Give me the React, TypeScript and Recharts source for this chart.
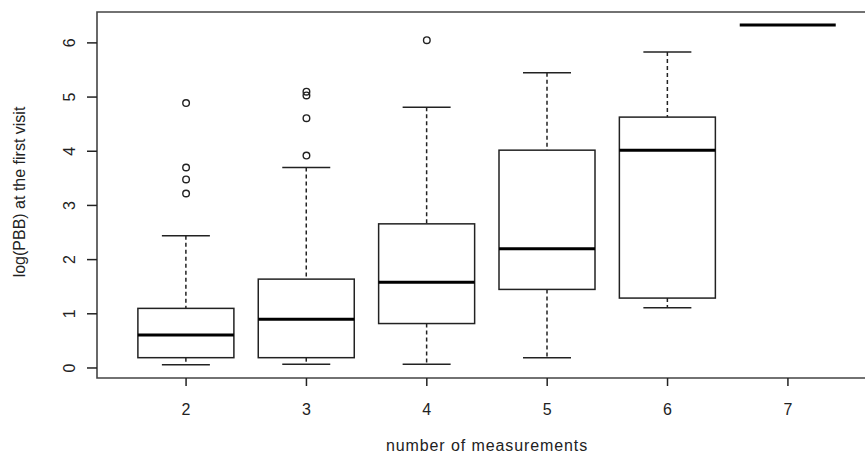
import React from "react";
import {
  ComposedChart,
  Bar,
  Scatter,
  XAxis,
  YAxis,
  ReferenceArea,
  Label,
} from "recharts";

// 측정 횟수별 로그(PBB) 분포 (상자그림 요약값)
const categories = ["2", "3", "4", "5", "6", "7"];
const lowWhisker = [0.06, 0.07, 0.07, 0.19, 1.11, 6.33];
const q1 = [0.19, 0.19, 0.82, 1.45, 1.29, 6.33];
const median = [0.61, 0.9, 1.58, 2.2, 4.02, 6.33];
const q3 = [1.1, 1.64, 2.66, 4.02, 4.63, 6.33];
const highWhisker = [2.44, 3.7, 4.81, 5.45, 5.83, 6.33];

// 이상치 (카테고리 인덱스별)
const outliers2 = [4.89, 3.7, 3.48, 3.22];
const outliers3 = [5.1, 5.03, 4.61, 3.92];
const outliers4 = [6.05];

const yTicks = [0, 1, 2, 3, 4, 5, 6];

// 축 범위 (R 기본값처럼 4% 여백)
const X_MIN = 0.26;
const X_MAX = 6.74;
const Y_MIN = -0.185;
const Y_MAX = 6.57;

const FONT = "'Liberation Sans', Arial, sans-serif";
const INK = "#222";

const boxRows = categories.map((c, i) => ({
  pos: i + 1,
  label: c,
  lo: lowWhisker[i],
  q1: q1[i],
  med: median[i],
  q3: q3[i],
  hi: highWhisker[i],
}));

const outlierRows = [
  ...outliers2.map((v) => ({ pos: 1, value: v })),
  ...outliers3.map((v) => ({ pos: 2, value: v })),
  ...outliers4.map((v) => ({ pos: 3, value: v })),
];

// 상자 하나를 그리는 shape: 막대의 [Y_MIN, hi] 범위로 픽셀 스케일을 구함
function BoxShape(props: any) {
  const { x, y, width, height, payload } = props;
  const ppu = height / (payload.hi - Y_MIN);
  const toY = (v: number) => y + (payload.hi - v) * ppu;
  const cx = x + width / 2;
  const cap = width / 4;
  const yHi = toY(payload.hi);
  const yLo = toY(payload.lo);
  const yQ3 = toY(payload.q3);
  const yQ1 = toY(payload.q1);
  const yMed = toY(payload.med);
  return (
    <g>
      {yQ3 > yHi && (
        <line x1={cx} x2={cx} y1={yHi} y2={yQ3} stroke={INK} strokeWidth={1.5} strokeDasharray="4 3" />
      )}
      {yLo > yQ1 && (
        <line x1={cx} x2={cx} y1={yQ1} y2={yLo} stroke={INK} strokeWidth={1.5} strokeDasharray="4 3" />
      )}
      <line x1={cx - cap} x2={cx + cap} y1={yHi} y2={yHi} stroke={INK} strokeWidth={1.5} />
      <line x1={cx - cap} x2={cx + cap} y1={yLo} y2={yLo} stroke={INK} strokeWidth={1.5} />
      <rect x={x} y={yQ3} width={width} height={Math.max(0, yQ1 - yQ3)} fill="none" stroke={INK} strokeWidth={1.5} />
      <line x1={x} x2={x + width} y1={yMed} y2={yMed} stroke="#000" strokeWidth={3} />
    </g>
  );
}

function OutlierShape(props: any) {
  const { cx, cy } = props;
  return <circle cx={cx} cy={cy} r={3.3} fill="none" stroke={INK} strokeWidth={1.4} />;
}

function XTick(props: any) {
  const { x, y, payload } = props;
  return (
    <text x={x} y={y + 29} textAnchor="middle" fontSize={16} fontFamily={FONT} fill={INK}>
      {categories[payload.value - 1]}
    </text>
  );
}

function YTick(props: any) {
  const { x, y, payload } = props;
  const tx = x - 12;
  return (
    <text
      x={tx}
      y={y}
      transform={`rotate(-90, ${tx}, ${y})`}
      textAnchor="middle"
      fontSize={16}
      fontFamily={FONT}
      fill={INK}
    >
      {payload.value}
    </text>
  );
}

export default function App() {
  return (
    <div
      style={{
        position: "absolute",
        left: 0,
        top: 0,
        width: 865,
        height: 456,
        overflow: "hidden",
        background: "#fff",
      }}
    >
      <ComposedChart
        width={880}
        height={456}
        data={boxRows}
        margin={{ top: 12, right: 3, bottom: 0, left: 0 }}
      >
        <XAxis
          dataKey="pos"
          type="number"
          domain={[X_MIN, X_MAX]}
          ticks={[1, 2, 3, 4, 5, 6]}
          allowDataOverflow
          axisLine={false}
          tickSize={8}
          tickMargin={0}
          tickLine={{ stroke: INK, strokeWidth: 1.5 }}
          tick={<XTick />}
          height={78}
        >
          <Label
            content={(p: any) => {
              const vb = p.viewBox;
              return (
                <text
                  x={vb.x + vb.width / 2}
                  y={vb.y + 73}
                  textAnchor="middle"
                  fontSize={16}
                  letterSpacing={0.9}
                  fontFamily={FONT}
                  fill={INK}
                >
                  number of measurements
                </text>
              );
            }}
          />
        </XAxis>
        <YAxis
          dataKey="value"
          type="number"
          domain={[Y_MIN, Y_MAX]}
          ticks={yTicks}
          allowDataOverflow
          axisLine={false}
          tickSize={10}
          tickMargin={0}
          tickLine={{ stroke: INK, strokeWidth: 1.5 }}
          tick={<YTick />}
          width={97}
        >
          <Label
            content={(p: any) => {
              const vb = p.viewBox;
              const tx = 25;
              const ty = vb.y + vb.height / 2 - 3;
              return (
                <text
                  x={tx}
                  y={ty}
                  transform={`rotate(-90, ${tx}, ${ty})`}
                  textAnchor="middle"
                  fontSize={16}
                  fontFamily={FONT}
                  fill={INK}
                >
                  log(PBB) at the first visit
                </text>
              );
            }}
          />
        </YAxis>
        <ReferenceArea
          x1={X_MIN}
          x2={X_MAX}
          y1={Y_MIN}
          y2={Y_MAX}
          fill="none"
          stroke="#444"
          strokeWidth={1.6}
          ifOverflow="visible"
        />
        <Bar
          dataKey={(d: any) => [Y_MIN, d.hi]}
          barSize={96}
          shape={<BoxShape />}
          isAnimationActive={false}
        />
        <Scatter
          data={outlierRows}
          dataKey="value"
          shape={<OutlierShape />}
          isAnimationActive={false}
        />
      </ComposedChart>
    </div>
  );
}
